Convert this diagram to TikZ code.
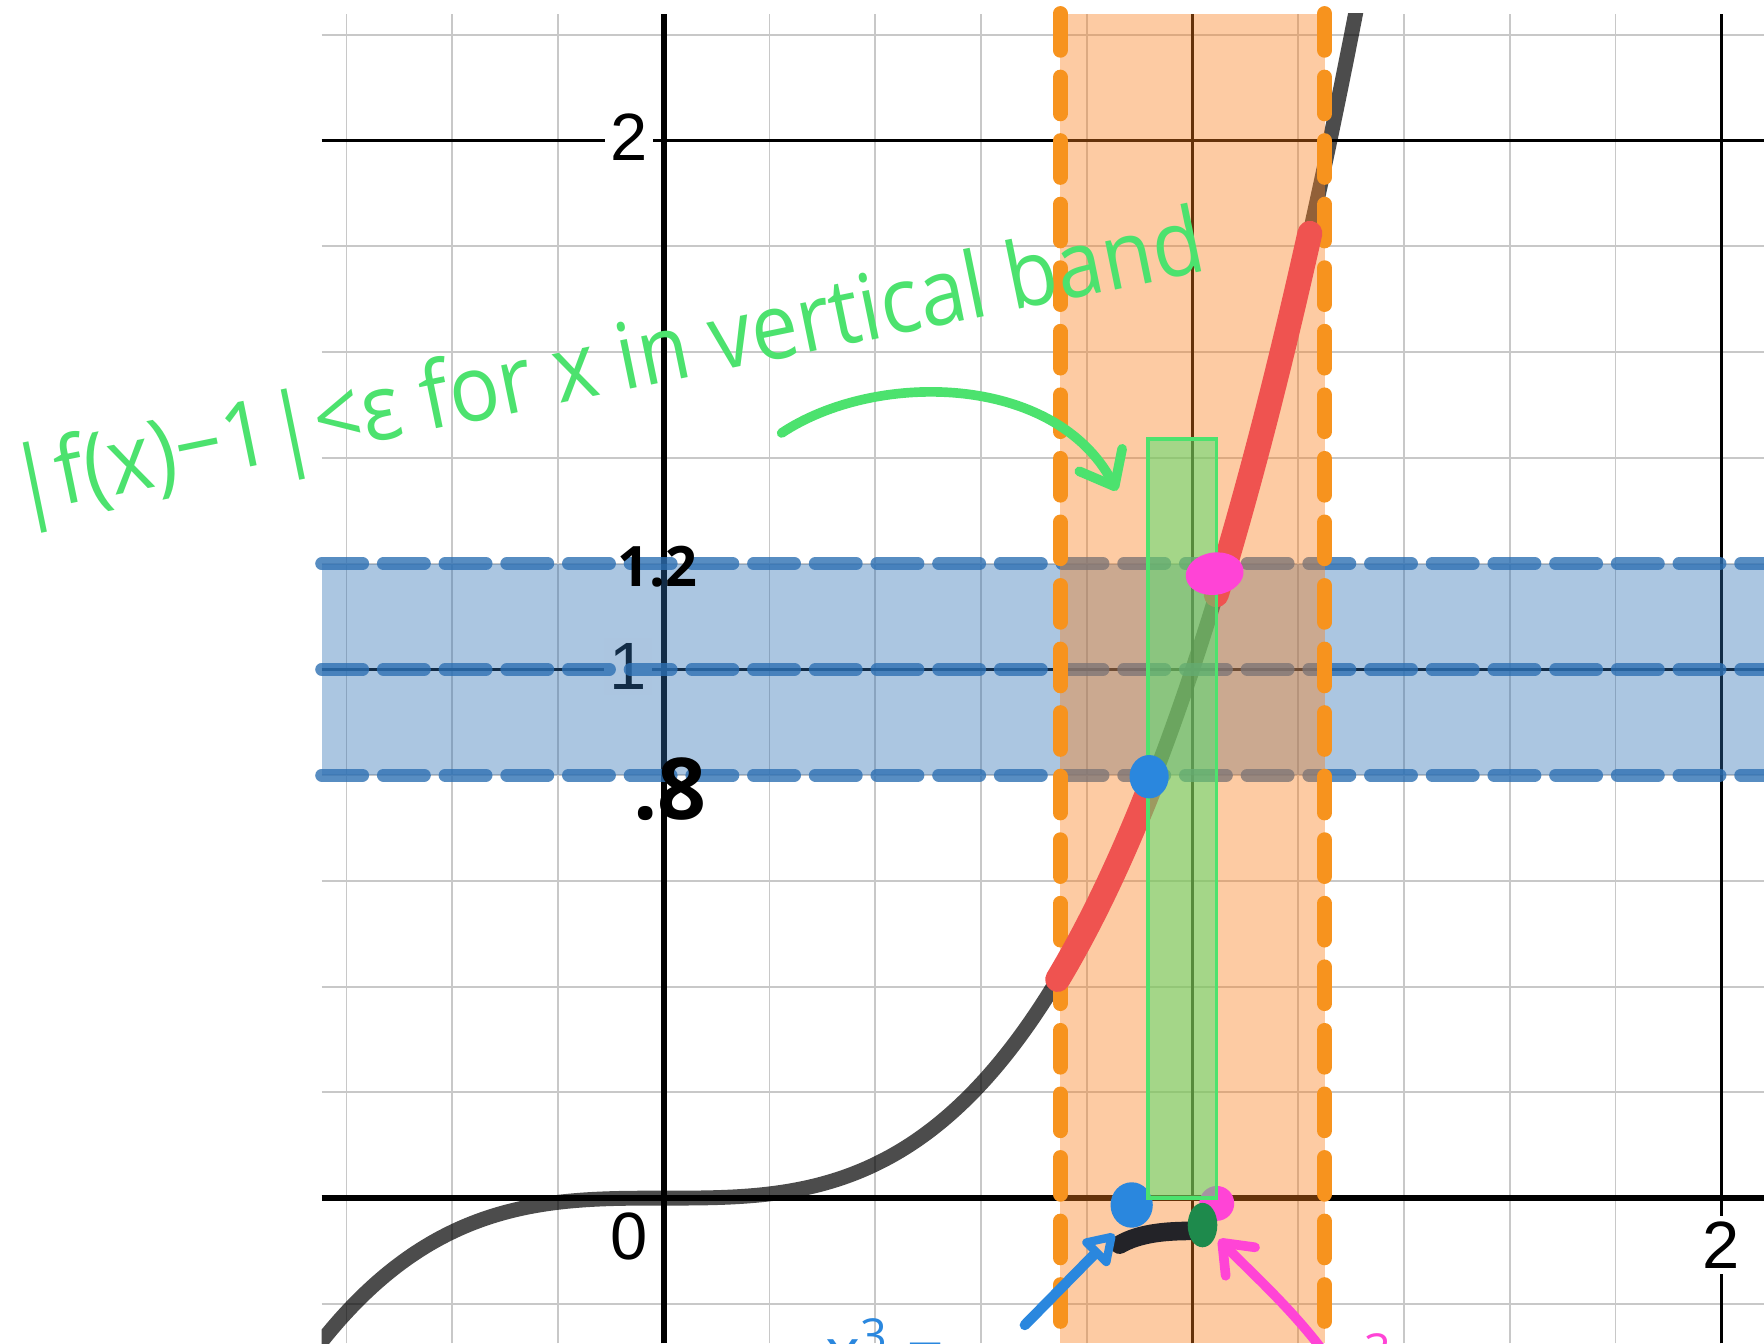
\documentclass[tikz,border=0pt]{standalone}
\usepackage{fontspec}
\setmainfont{Liberation Sans}
\newfontfamily\handfont{Open Sans}
\usetikzlibrary{arrows.meta}
\definecolor{gridgray}{HTML}{C8C8C8}
\definecolor{graphblue}{HTML}{2D70B3}
\definecolor{graphorange}{HTML}{FA7E19}
\definecolor{dashorange}{HTML}{F7931E}
\definecolor{curvered}{HTML}{EF5350}
\definecolor{inkgreen}{HTML}{4CE26E}
\definecolor{inkblue}{HTML}{2A87DE}
\definecolor{inkpink}{HTML}{FF44D6}
\definecolor{inkdkgreen}{HTML}{1E8A4C}
\definecolor{inkblack}{HTML}{232328}

\begin{document}
\begin{tikzpicture}[x=5cm,y=5cm,
    minorline/.style={draw=gridgray,line width=.5pt},
    majorline/.style={draw=black,line width=.75pt},
    ticklabel/.style={font=\fontsize{18}{20}\selectfont,inner sep=1.5pt},
    handnum/.style={font={\handfont\bfseries\fontsize{#1}{#1}\selectfont},inner sep=0pt},
    bluedash/.style={draw=graphblue,draw opacity=.8,line width=3.5pt,line cap=round,dash pattern=on 11pt off 5.6pt},
    orangedash/.style={draw=dashorange,line width=4pt,line cap=round,dash pattern=on 9.9pt off 7.2pt},
    ink/.style={line width=2.6pt,line cap=round,line join=round}]
  \useasboundingbox (-1.2553,-0.2745) rectangle (2.0809,2.2660);
  \foreach \i in {-3,...,10}
    \draw[minorline] (\i/5,-0.2745) -- (\i/5,2.2404);
  \foreach \j in {-1,...,11}
    \draw[minorline] (-0.6468,\j/5) -- (2.0809,\j/5);
  \foreach \k in {1,2} {
    \draw[majorline] (\k,-0.2745) -- (\k,2.2404);
    \draw[majorline] (-0.6468,\k) -- (2.0809,\k);
  }
  \node[ticklabel,fill=white] (ytwo) at (-0.066,2.006) {2};
  \node[ticklabel,fill=white] (yone) at (-0.068,1.005) {1};
  \node[ticklabel,fill=white] (zero) at (-0.066,-0.073) {0};
  \node[ticklabel,fill=white] (xtwo) at (2,-0.089) {2};
  \draw[black,line width=1.5pt] (-0.6468,0) -- (2.0809,0);
  \draw[black,line width=1.5pt] (0,-0.2745) -- (0,2.2404);
  \begin{scope}
    \clip (-0.6468,-0.2745) rectangle (2.0809,2.2404);
    \draw[black,draw opacity=.7,line width=4pt,domain=-0.7:1.35,samples=120,smooth] plot (\x,{\x*\x*\x});
  \end{scope}

  \fill[graphblue,fill opacity=.4] (-0.6468,0.8) rectangle (2.0809,1.2);
  \foreach \v in {0.8,1,1.2}
    \draw[bluedash] (-0.6468,\v) -- (2.0809,\v);
  \fill[graphorange,fill opacity=.4] (0.75,-0.2745) rectangle (1.25,2.2404);
  \foreach \u in {0.75,1.25}
    \draw[orangedash] (\u,2.2404) -- (\u,-0.2745);

  \node[handnum=15,anchor=base] (onetwo) at (-0.012,1.157) {1.2};
  \node[handnum=23,anchor=base] (pteight) at (0.012,0.716) {.8};

  \draw[curvered,line width=6.7pt,line cap=round,domain=0.745:0.925,samples=30] plot (\x,{\x*\x*\x});
  \draw[curvered,line width=6.7pt,line cap=round,domain=1.045:1.222,samples=30] plot (\x,{\x*\x*\x});

  \fill[inkblue] (0.885,-0.013) ellipse [x radius=0.04,y radius=0.043];
  \fill[inkpink] (1.046,-0.01) circle [radius=0.033];
  \draw[inkblack,line width=5pt,line cap=round] (0.862,-0.088) .. controls (0.9,-0.066) and (0.95,-0.062) .. (1.0,-0.062);
  \fill[inkdkgreen] (1.019,-0.051) ellipse [x radius=0.028,y radius=0.042];

  \draw[inkgreen,line width=.9pt,fill=inkgreen,fill opacity=.5] (0.916,0) rectangle (1.045,1.436);

  \fill[inkblue] (0.918,0.797) ellipse [x radius=0.037,y radius=0.041];
  \fill[inkpink,rotate around={8:(1.042,1.181)}] (1.042,1.181) ellipse [x radius=0.055,y radius=0.04];

  \node[text=inkgreen,font={\handfont\fontsize{22.5}{24}\selectfont},anchor=base west,rotate=11.6,yscale=1.1,inner sep=0pt] (claim) at (-1.2234,1.2915) {|f(x)−1|<ε for x in vertical band};
  \coordinate (gtail) at (0.223,1.447);
  \coordinate (gtip) at (0.857,1.338);
  \draw[inkgreen,ink,-{Straight Barb[round,length=8pt,width=13pt]}] (gtail) .. controls (0.40,1.565) and (0.74,1.56) .. (gtip);

  \coordinate (btail) at (0.683,-0.240);
  \coordinate (btip) at (0.852,-0.068);
  \draw[inkblue,ink,line width=2.8pt,-{Triangle[open,round,length=9pt,width=11pt]}] (btail) -- (btip);
  \coordinate (ptail) at (1.262,-0.31);
  \coordinate (ptip) at (1.05,-0.078);
  \draw[inkpink,ink,-{Straight Barb[round,length=7pt,width=11pt]}] (ptail) .. controls (1.20,-0.22) and (1.11,-0.14) .. (ptip);

  \node[text=inkblue,font={\handfont\fontsize{18}{18}\selectfont},anchor=north west,inner sep=0pt] (lowroot) at (0.305,-0.226) {x\textsuperscript{3} =};
  \node[text=inkpink,font={\handfont\fontsize{18}{18}\selectfont},anchor=north west,inner sep=0pt] (highroot) at (1.323,-0.254) {\textsuperscript{3}};
\end{tikzpicture}
\end{document}
